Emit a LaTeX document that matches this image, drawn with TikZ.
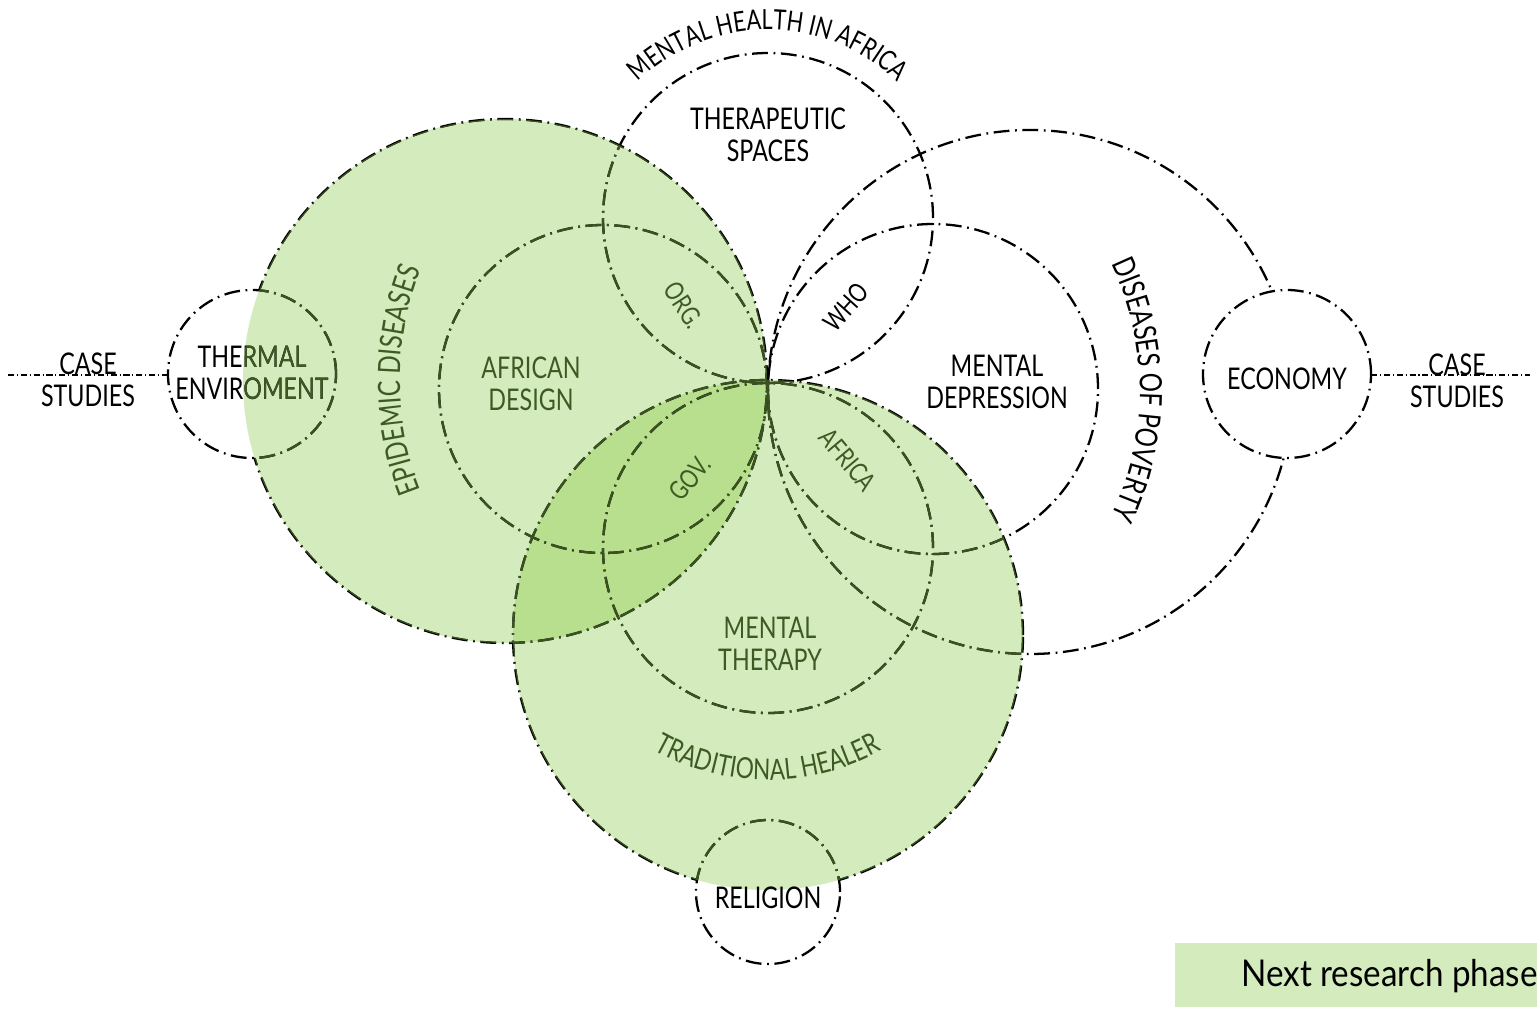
\documentclass[tikz,border=0pt]{standalone}
\usepackage{fontspec}
\usetikzlibrary{decorations.text}
\newfontfamily\lab{Lato}[FakeStretch=0.78]
\newfontfamily\leg{Lato}[FakeStretch=0.9]
\definecolor{gfill}{HTML}{D4EBBD}
\definecolor{gdark}{HTML}{B8DF8E}
\definecolor{gline}{HTML}{3A5120}
\definecolor{gtext}{HTML}{3E5A22}
\newcommand\bigrings[1]{%
  \draw[ring,#1] (cE) circle[radius=262];
  \draw[ring,#1] (cT) circle[radius=255];
  \draw[ring,#1] (cA) circle[radius=164];
  \draw[ring,#1] (cS) circle[radius=165];
  \draw[ring,#1] (cD) circle[radius=165];
  \draw[ring,#1] (cM) circle[radius=165];
  \draw[ring,#1] (cP) circle[radius=262];
}
\newcommand\smallrings[1]{%
  \draw[ring,#1] (cH) circle[radius=84];
  \draw[ring,#1] (cN) circle[radius=84];
  \draw[ring,#1] (cR) circle[radius=72];
}
\begin{document}
\begin{tikzpicture}[x=0.02cm,y=0.02cm,
  ring/.style={line width=1.3pt, dash pattern=on 9pt off 3.2pt on 1pt off 3.2pt},
  casel/.style={line width=0.6pt, dash pattern=on 3.5pt off 1.6pt on 0.6pt off 1.6pt},
  lbl/.style={font=\lab\fontsize{17}{18.3}\selectfont, align=center, inner sep=0pt},
  sml/.style={font=\lab\fontsize{15}{16}\selectfont, inner sep=0pt, text=gtext},
]
\useasboundingbox (0,0) rectangle (1537,-1010);
% circle centres
\coordinate (cE) at (505,-381);
\coordinate (cT) at (768,-635);
\coordinate (cA) at (603,-389);
\coordinate (cS) at (768,-218);
\coordinate (cD) at (933,-389);
\coordinate (cM) at (768,-548);
\coordinate (cP) at (1030,-392);
\coordinate (cH) at (252,-374);
\coordinate (cN) at (1287,-374);
\coordinate (cR) at (768,-892);
\coordinate (cEp) at (700,-380);
\coordinate (cPv) at (850,-390);
% fills
\fill[gfill] (cE) circle[radius=262];
\fill[gfill] (cT) circle[radius=255];
\begin{scope}
  \clip (cE) circle[radius=262];
  \fill[gdark] (cT) circle[radius=255];
\end{scope}
% big rings (hidden inside the small circles)
\begin{scope}[even odd rule]
  \clip (0,0) rectangle (1537,-1010)
     (cH) circle[radius=84] (cN) circle[radius=84] (cR) circle[radius=72];
  \bigrings{black}
  \begin{scope}[nonzero rule]
    \clip (cE) circle[radius=262] (cT) circle[radius=255];
    \bigrings{gline}
  \end{scope}
\end{scope}
% small rings
\smallrings{black}
\begin{scope}
  \clip (cE) circle[radius=262] (cT) circle[radius=255];
  \smallrings{gline}
\end{scope}
% case studies lines
\coordinate (csl) at (8,-375);
\coordinate (csr) at (1530,-375);
\coordinate (hw) at (168,-375);
\coordinate (ne) at (1371,-375);
\draw[casel] (csl) -- (hw);
\draw[casel] (ne) -- (csr);
% labels
\node[lbl] (cs1) at (88,-380) {CASE\\STUDIES};
\node[lbl] (cs2) at (1457,-381) {CASE\\STUDIES};
\node[lbl] (ther) at (252,-373) {THERMAL\\ENVIROMENT};
\begin{scope}
  \clip (cE) circle[radius=262];
  \node[lbl,text=gtext] (therg) at (252,-373) {THERMAL\\ENVIROMENT};
\end{scope}
\node[lbl] (tsp) at (768,-135) {THERAPEUTIC\\SPACES};
\node[lbl,text=gtext] (ades) at (531,-384) {AFRICAN\\DESIGN};
\node[lbl] (mdep) at (997,-382) {MENTAL\\DEPRESSION};
\node[lbl,text=gtext] (mthe) at (770,-644) {MENTAL\\THERAPY};
\node[lbl] (eco) at (1287,-379) {ECONOMY};
\node[lbl] (rel) at (768,-898) {RELIGION};
\node[sml,rotate=-57] (org) at (684,-305) {ORG.};
\node[sml,rotate=48,text=black] (who) at (846,-307) {WHO};
\node[sml,rotate=50] (gov) at (690,-478) {GOV.};
\node[sml,rotate=-50] (afr) at (848,-460) {AFRICA};
% curved labels
\path[decorate,decoration={text along path, text align=center,
   text={|\lab\fontsize{15.8}{15.8}\selectfont|MENTAL HEALTH IN AFRICA}}]
   ([shift={(170:188)}]cS) arc[start angle=170, end angle=10, radius=188];
\path[decorate,decoration={text along path, text align=center, text color=gtext,
   text={|\lab\fontsize{16.5}{16.5}\selectfont|TRADITIONAL HEALER}}]
   ([shift={(215:232)}]cM) arc[start angle=215, end angle=325, radius=232];
\path[decorate,decoration={text along path, text align=center, text color=gtext,
   text={|\lab\fontsize{17.5}{17.5}\selectfont|EPIDEMIC DISEASES}}]
   ([shift={(215:300)}]cEp) arc[start angle=215, end angle=145, radius=300];
\path[decorate,decoration={text along path, text align=center,
   text={|\lab\fontsize{17.5}{17.5}\selectfont|DISEASES OF POVERTY}}]
   ([shift={(40:290)}]cPv) arc[start angle=40, end angle=-40, radius=290];
% legend
\fill[gfill] (1175,-943) rectangle (1537,-1007);
\node[font=\leg\fontsize{21}{23}\selectfont, anchor=west, inner sep=0pt] (legend) at (1241,-976) {Next research phase};
\end{tikzpicture}
\end{document}
